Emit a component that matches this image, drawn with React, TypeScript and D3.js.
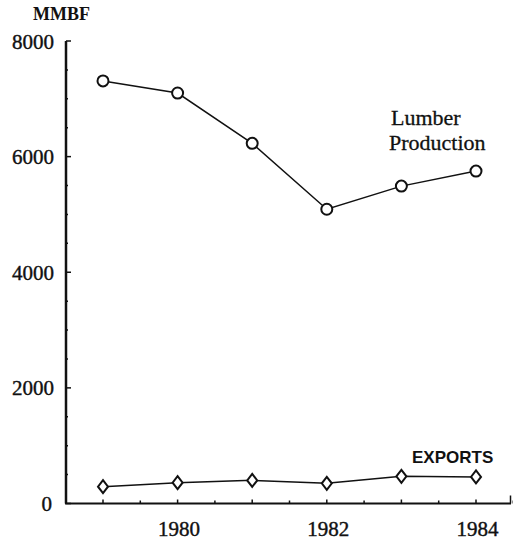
import React from "react";
import * as d3 from "d3";

const years = [1979, 1980, 1981, 1982, 1983, 1984];
const lumberProduction = [7310, 7100, 6230, 5090, 5490, 5750];
const exportsVol = [290, 360, 400, 350, 470, 460];
const yTickValues = [0, 2000, 4000, 6000, 8000];
const xLabelYears = [1980, 1982, 1984];

const W = 513;
const H = 542;

export default function App() {
  const x = d3.scaleLinear().domain([1979, 1984]).range([103, 476]);
  const y = d3.scaleLinear().domain([0, 8000]).range([503.5, 41]);

  const line = d3
    .line<[number, number]>()
    .x((d) => x(d[0]))
    .y((d) => y(d[1]));

  const lumberPts: [number, number][] = years.map((yr, i) => [yr, lumberProduction[i]]);
  const exportPts: [number, number][] = years.map((yr, i) => [yr, exportsVol[i]]);

  const minorY = d3.range(0, 8001, 500);
  const minorX = d3.range(1979, 1985.01, 0.5);

  const serif = "Liberation Serif, DejaVu Serif, serif";
  const sans = "Liberation Sans, Arial, sans-serif";

  return (
    <svg
      width={W}
      height={H}
      viewBox={`0 0 ${W} ${H}`}
      style={{ position: "absolute", left: 0, top: 0, background: "#fff" }}
    >
      <rect x={0} y={0} width={W} height={H} fill="#fff" />
      {/* axes */}
      <line x1={66} x2={66} y1={y(8000)} y2={y(0)} stroke="#111" strokeWidth={2.5} />
      <line x1={65} x2={511} y1={y(0)} y2={y(0)} stroke="#111" strokeWidth={2.2} />
      <line x1={510.5} x2={510.5} y1={y(0)} y2={y(0) - 8} stroke="#111" strokeWidth={1.5} />
      {/* y ticks */}
      {minorY.map((v) => (
        <line
          key={"yt" + v}
          x1={66}
          x2={v % 2000 === 0 ? 71 : 68}
          y1={y(v)}
          y2={y(v)}
          stroke="#111"
          strokeWidth={1.5}
        />
      ))}
      {yTickValues.map((v) => (
        <text
          key={"yl" + v}
          x={v === 0 ? 52 : 54}
          y={y(v) + 7.5}
          textAnchor="end"
          style={{ fontFamily: serif, fontSize: "21px" }}
          fill="#111"
          stroke="#111"
          strokeWidth={0.4}
        >
          {v}
        </text>
      ))}
      {/* x ticks */}
      {minorX.map((v) => (
        <line
          key={"xt" + v}
          x1={x(v)}
          x2={x(v)}
          y1={y(0)}
          y2={y(0) - (Number.isInteger(v) ? 4 : 3)}
          stroke="#111"
          strokeWidth={1.5}
        />
      ))}
      {xLabelYears.map((yr) => (
        <text
          key={"xl" + yr}
          x={x(yr) + 1.5}
          y={536}
          textAnchor="middle"
          style={{ fontFamily: serif, fontSize: "21px" }}
          fill="#111"
          stroke="#111"
          strokeWidth={0.4}
        >
          {yr}
        </text>
      ))}
      <text
        x={33}
        y={20}
        style={{ fontFamily: serif, fontSize: "18px", fontWeight: "bold" }}
        fill="#111"
      >
        MMBF
      </text>
      {/* lumber production */}
      <path d={line(lumberPts) || ""} fill="none" stroke="#111" strokeWidth={1.5} />
      {lumberPts.map((p, i) => (
        <circle key={"c" + i} cx={x(p[0])} cy={y(p[1])} r={5.5} fill="#fff" stroke="#111" strokeWidth={2} />
      ))}
      <text
        x={391}
        y={125}
        style={{ fontFamily: serif, fontSize: "22px" }}
        fill="#111"
        stroke="#111"
        strokeWidth={0.3}
      >
        Lumber
      </text>
      <text
        x={389}
        y={150}
        style={{ fontFamily: serif, fontSize: "22px" }}
        fill="#111"
        stroke="#111"
        strokeWidth={0.3}
      >
        Production
      </text>
      {/* exports */}
      <path d={line(exportPts) || ""} fill="none" stroke="#111" strokeWidth={1.5} />
      {exportPts.map((p, i) => {
        const cx = x(p[0]);
        const cy = y(p[1]);
        return (
          <path
            key={"d" + i}
            d={`M${cx},${cy - 6.5}L${cx + 5},${cy}L${cx},${cy + 6.5}L${cx - 5},${cy}Z`}
            fill="#fff"
            stroke="#111"
            strokeWidth={2}
          />
        );
      })}
      <text
        x={412}
        y={463}
        style={{ fontFamily: sans, fontSize: "17px", fontWeight: "bold" }}
        fill="#111"
      >
        EXPORTS
      </text>
    </svg>
  );
}
